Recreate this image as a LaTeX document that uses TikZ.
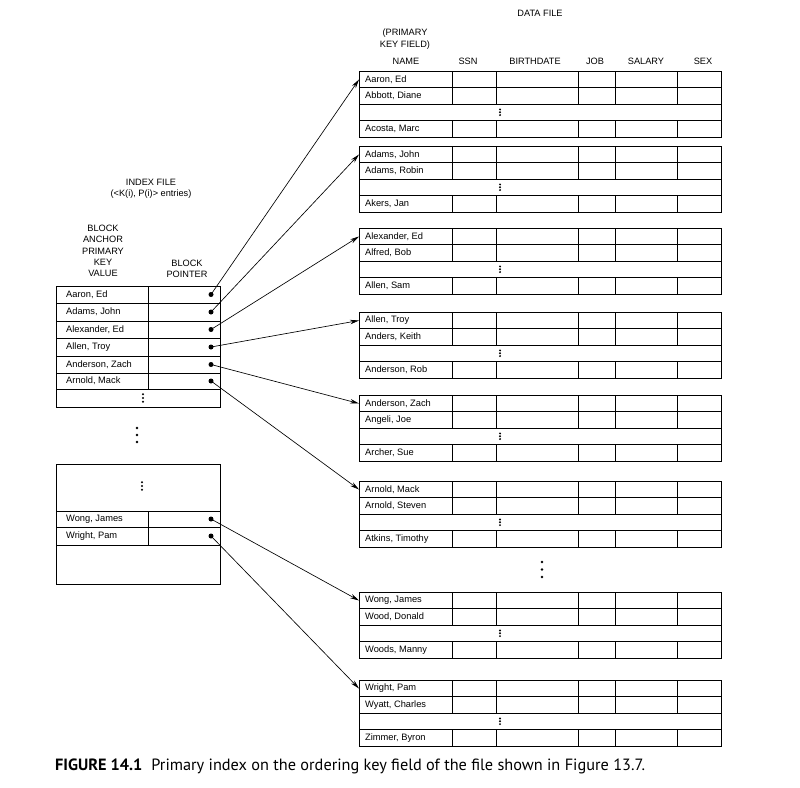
\documentclass[tikz,border=0pt]{standalone}
\usepackage{fontspec}
\setmainfont{Liberation Sans}
\newfontfamily\capfont{PT Sans}
\usetikzlibrary{arrows.meta}

\newcommand\DataBlk[5]{%
  \draw[grid] (359,#1) rectangle (721,#1+66);
  \foreach \rr in {16.5,33,49.5} \draw[grid] (359,#1+\rr) -- (721,#1+\rr);
  \foreach \cx in {452,496,578,615,677} {
    \draw[grid] (\cx,#1) -- (\cx,#1+33);
    \draw[grid] (\cx,#1+49.5) -- (\cx,#1+66);
  }
  \node[cell] (#2a) at (365,#1+8.25) {#3};
  \node[cell] (#2b) at (365,#1+24.75) {#4};
  \node[cell] (#2c) at (365,#1+57.75) {#5};
  \coordinate (#2t) at (359,#1+8.5);
  \node[sdot] (#2d1) at (500,#1+38.4) {};
  \node[sdot] (#2d2) at (500,#1+41.25) {};
  \node[sdot] (#2d3) at (500,#1+44.1) {};
}

\begin{document}
\begin{tikzpicture}[x=1pt,y=-1pt,
  lbl/.style={font=\fontsize{9.2}{11.3}\selectfont, inner sep=0pt, align=center},
  cell/.style={font=\fontsize{9.3}{11}\selectfont, inner sep=0pt, anchor=west},
  grid/.style={line width=0.75pt},
  ptr/.style={circle, fill, inner sep=0pt, minimum size=5pt},
  arr/.style={line width=0.65pt, -{Stealth[length=9pt,width=4.5pt]}},
  sdot/.style={circle, fill, inner sep=0pt, minimum size=2.2pt},
  bdot/.style={circle, fill, inner sep=0pt, minimum size=2.8pt}]
\useasboundingbox (0,0) rectangle (800,787);

% ---------- headers ----------
\node[lbl] (df) at (540,13) {DATA FILE};
\node[lbl] (pk) at (405,39) {(PRIMARY\\KEY FIELD)};
\node[lbl] (hname) at (406,61) {NAME};
\node[lbl] (hssn) at (468,61) {SSN};
\node[lbl] (hbd) at (535,61) {BIRTHDATE};
\node[lbl] (hjob) at (595,61) {JOB};
\node[lbl] (hsal) at (646,61) {SALARY};
\node[lbl] (hsex) at (703,61) {SEX};

\node[lbl] (ixf) at (151,189) {INDEX FILE\\(<K(i), P(i)> entries)};
\node[lbl] (anch) at (103,251) {BLOCK\\ANCHOR\\PRIMARY\\KEY\\VALUE};
\node[lbl] (bptr) at (187,268.5) {BLOCK\\POINTER};

% ---------- data file ----------
\DataBlk{71}{d1}{Aaron, Ed}{Abbott, Diane}{Acosta, Marc}
\DataBlk{146}{d2}{Adams, John}{Adams, Robin}{Akers, Jan}
\DataBlk{228}{d3}{Alexander, Ed}{Alfred, Bob}{Allen, Sam}
\DataBlk{312}{d4}{Allen, Troy}{Anders, Keith}{Anderson, Rob}
\DataBlk{395}{d5}{Anderson, Zach}{Angeli, Joe}{Archer, Sue}
\DataBlk{481}{d6}{Arnold, Mack}{Arnold, Steven}{Atkins, Timothy}
\DataBlk{592}{d7}{Wong, James}{Wood, Donald}{Woods, Manny}
\DataBlk{680}{d8}{Wright, Pam}{Wyatt, Charles}{Zimmer, Byron}

\node[bdot] (dm1) at (542,562) {};
\node[bdot] (dm2) at (542,569.5) {};
\node[bdot] (dm3) at (542,577) {};

% ---------- index file, first block ----------
\draw[grid] (56,286) rectangle (220,407);
\foreach \yy in {303,321,338,356,373,389} \draw[grid] (56,\yy) -- (220,\yy);
\draw[grid] (148,286) -- (148,389);
\node[cell] (i1) at (66,294.5) {Aaron, Ed};
\node[cell] (i2) at (66,312) {Adams, John};
\node[cell] (i3) at (66,329.5) {Alexander, Ed};
\node[cell] (i4) at (66,347) {Allen, Troy};
\node[cell] (i5) at (66,364.5) {Anderson, Zach};
\node[cell] (i6) at (66,381) {Arnold, Mack};
\node[ptr] (p1) at (211,294.5) {};
\node[ptr] (p2) at (211,312) {};
\node[ptr] (p3) at (211,329.5) {};
\node[ptr] (p4) at (211,347) {};
\node[ptr] (p5) at (211,364.5) {};
\node[ptr] (p6) at (211,381) {};
\node[sdot] (ia1) at (143,394.3) {};
\node[sdot] (ia2) at (143,398) {};
\node[sdot] (ia3) at (143,401.7) {};

% dots between index blocks
\node[bdot] (im1) at (137,428) {};
\node[bdot] (im2) at (137,435) {};
\node[bdot] (im3) at (137,442) {};

% ---------- index file, last block ----------
\draw[grid] (56,464) rectangle (220,584);
\foreach \yy in {511,527,545} \draw[grid] (56,\yy) -- (220,\yy);
\draw[grid] (148,511) -- (148,545);
\node[sdot] (ib1) at (142,482.3) {};
\node[sdot] (ib2) at (142,486) {};
\node[sdot] (ib3) at (142,489.7) {};
\node[cell] (i7) at (66,519) {Wong, James};
\node[cell] (i8) at (66,536) {Wright, Pam};
\node[ptr] (p7) at (211,519) {};
\node[ptr] (p8) at (211,536) {};

% ---------- pointers ----------
\draw[arr] (p1.center) -- (d1t);
\draw[arr] (p2.center) -- (d2t);
\draw[arr] (p3.center) -- (d3t);
\draw[arr] (p4.center) -- (d4t);
\draw[arr] (p5.center) -- (d5t);
\draw[arr] (p6.center) -- (d6t);
\draw[arr] (p7.center) -- (d7t);
\draw[arr] (p8.center) -- (d8t);

% ---------- caption ----------
\node[anchor=west, inner sep=0pt, font=\capfont\fontsize{16.3}{19}\selectfont] (cap) at (55,766)
  {\textbf{FIGURE 14.1}\hspace{0.55em}Primary index on the ordering key field of the file shown in Figure 13.7.};
\end{tikzpicture}
\end{document}
